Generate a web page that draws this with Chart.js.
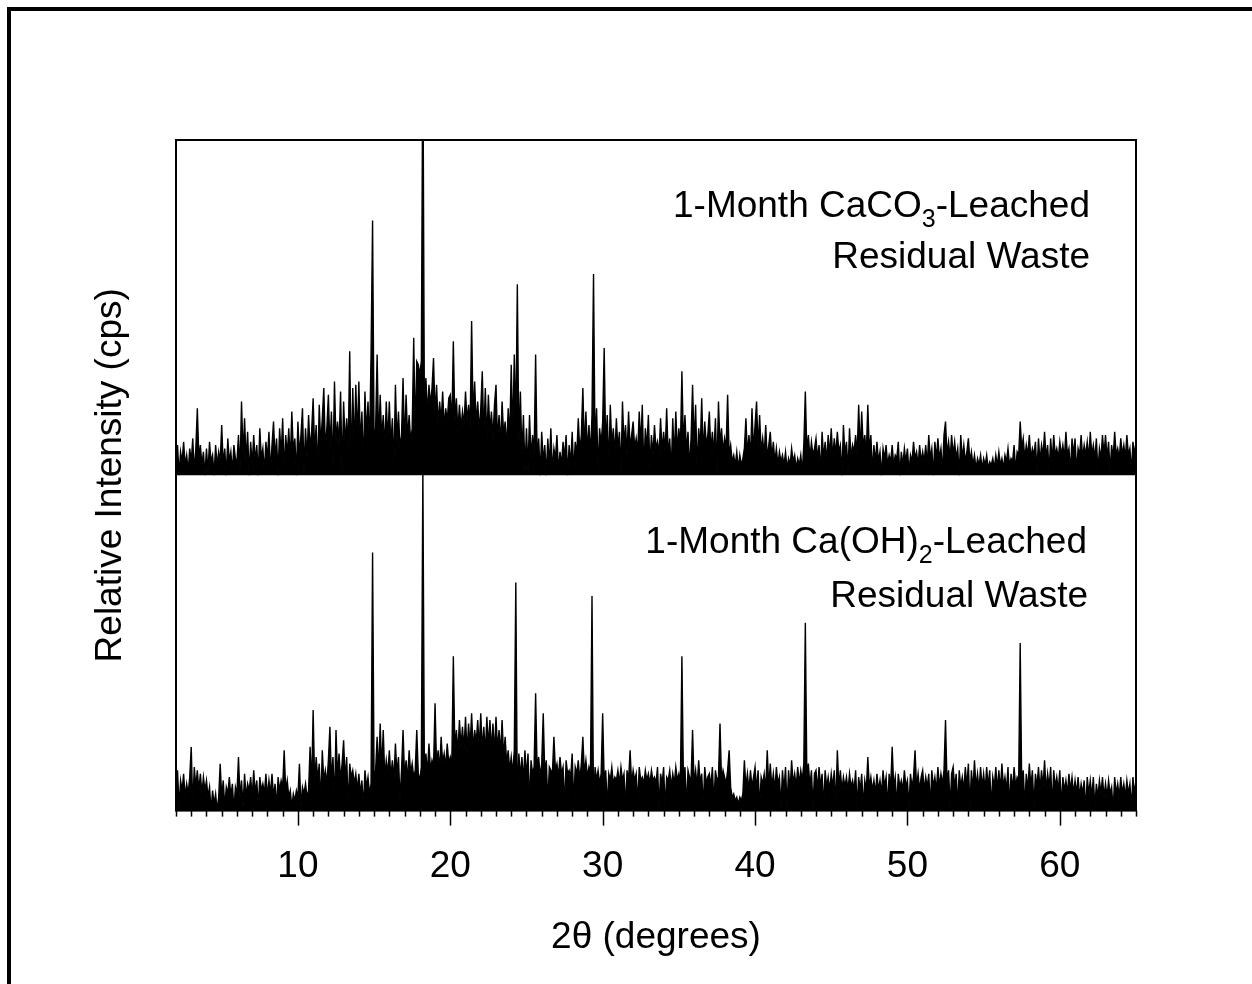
<!DOCTYPE html>
<html>
<head>
<meta charset="utf-8">
<script src="https://cdn.jsdelivr.net/npm/chart.js@4.4.0/dist/chart.umd.min.js"></script>
<style>
    html, body { margin: 0; padding: 0; background: #fff; overflow: hidden; }
    #frame { position: absolute; left: 7px; top: 7px; width: 1400px; height: 1200px; border: 4px solid #000; box-sizing: border-box; }
    #wrap { position: absolute; left: 0; top: 0; width: 1252px; height: 984px; }
</style>
</head>
<body>
<div id="frame"></div>
<div id="wrap"><canvas id="xrdChart" width="1252" height="984"></canvas></div>
<script>
// scan grid (2-theta, degrees), one row below = one degree
const scanStart = 2;
const scanStep = 0.1;

// 1-Month CaCO3-leached residual waste (relative counts)
const caco3Counts = [
    3, 9, 0, 7, 4, 10, 3, 6, 1, 8,
    4, 11, 1, 8, 20, 5, 9, 3, 7, 0,
    8, 1, 10, 4, 6, 0, 9, 3, 7, 4,
    15, 3, 8, 0, 11, 4, 7, 1, 9, 5,
    4, 12, 1, 22, 6, 17, 4, 13, 0, 10,
    3, 12, 4, 9, 0, 14, 5, 8, 1, 10,
    5, 13, 1, 9, 16, 5, 11, 0, 14, 6,
    17, 1, 12, 6, 14, 4, 19, 7, 11, 0,
    16, 6, 12, 20, 1, 14, 5, 18, 8, 13,
    23, 7, 15, 1, 21, 9, 17, 26, 8, 14,
    24, 8, 19, 2, 28, 10, 16, 9, 25, 1,
    22, 9, 17, 8, 37, 2, 26, 8, 27, 11,
    28, 9, 19, 2, 25, 12, 22, 9, 36, 76,
    10, 14, 36, 9, 24, 11, 18, 8, 22, 10,
    22, 9, 17, 2, 27, 10, 19, 8, 12, 29,
    9, 24, 11, 18, 10, 14, 41, 12, 34, 33,
    30, 34, 130, 20, 29, 18, 27, 21, 26, 35,
    18, 27, 15, 22, 16, 25, 14, 20, 16, 23,
    24, 15, 40, 16, 23, 13, 21, 14, 19, 15,
    25, 16, 21, 14, 46, 17, 28, 15, 22, 13,
    20, 31, 12, 26, 10, 24, 13, 19, 11, 21,
    27, 10, 18, 9, 22, 12, 16, 8, 20, 11,
    33, 12, 36, 14, 57, 9, 25, 6, 18, 1,
    14, 1, 18, 5, 12, 6, 36, 5, 11, 0,
    13, 4, 9, 0, 11, 3, 14, 1, 8, 5,
    12, 1, 7, 3, 10, 5, 12, 0, 9, 3,
    13, 1, 10, 6, 17, 7, 12, 26, 8, 19,
    7, 15, 6, 18, 60, 8, 20, 1, 14, 9,
    16, 38, 8, 18, 2, 21, 9, 14, 6, 17,
    8, 13, 1, 22, 9, 15, 6, 19, 8, 12,
    16, 8, 11, 7, 19, 9, 21, 1, 14, 8,
    18, 2, 12, 6, 15, 8, 10, 6, 17, 7,
    13, 7, 20, 6, 11, 1, 17, 5, 19, 7,
    14, 8, 31, 9, 18, 7, 13, 2, 11, 27,
    9, 21, 1, 14, 8, 23, 6, 16, 9, 12,
    19, 7, 13, 6, 17, 1, 22, 9, 14, 7,
    11, 8, 24, 6, 9, 4, 6, 3, 7, 2,
    6, 3, 5, 8, 17, 6, 12, 5, 20, 7,
    15, 22, 8, 18, 7, 11, 6, 15, 5, 9,
    13, 5, 10, 4, 8, 3, 7, 4, 6, 3,
    7, 2, 5, 3, 8, 4, 6, 2, 5, 3,
    6, 1, 9, 25, 7, 12, 5, 10, 6, 8,
    11, 5, 9, 1, 13, 5, 10, 4, 12, 6,
    14, 5, 11, 6, 13, 7, 9, 0, 15, 6,
    10, 1, 14, 5, 9, 7, 12, 6, 21, 7,
    19, 8, 12, 6, 21, 7, 12, 1, 9, 4,
    10, 4, 7, 0, 8, 5, 9, 3, 6, 4,
    9, 3, 6, 5, 10, 0, 7, 3, 8, 4,
    8, 1, 6, 4, 10, 5, 7, 3, 9, 4,
    7, 4, 9, 3, 12, 5, 8, 0, 10, 5,
    11, 5, 8, 1, 12, 16, 6, 10, 5, 12,
    6, 10, 5, 8, 0, 12, 5, 9, 4, 7,
    11, 4, 7, 3, 6, 2, 5, 3, 6, 2,
    5, 3, 6, 2, 4, 3, 5, 2, 6, 3,
    7, 3, 5, 2, 6, 4, 8, 3, 5, 4,
    9, 1, 7, 6, 16, 8, 11, 5, 9, 6,
    12, 5, 8, 6, 10, 1, 11, 4, 9, 6,
    13, 5, 9, 1, 11, 4, 12, 6, 8, 5,
    10, 6, 9, 5, 13, 6, 8, 1, 11, 6,
    11, 1, 8, 6, 12, 5, 9, 6, 10, 5,
    13, 6, 9, 5, 11, 1, 8, 5, 12, 6,
    12, 5, 10, 1, 9, 5, 13, 6, 8, 5,
    11, 6, 9, 5, 12, 6, 8, 1, 10, 6,
    10
];

// 1-Month Ca(OH)2-leached residual waste
const caoh2Counts = [
    5, 12, 1, 9, 6, 11, 4, 8, 5, 10,
    19, 1, 13, 7, 12, 6, 11, 5, 10, 6,
    9, 4, 7, 0, 6, 2, 5, 0, 4, 14,
    4, 9, 1, 7, 5, 10, 4, 8, 0, 7,
    5, 16, 4, 9, 1, 11, 4, 8, 6, 10,
    4, 12, 5, 9, 1, 10, 6, 8, 5, 11,
    4, 9, 5, 11, 4, 8, 1, 10, 6, 9,
    7, 18, 6, 9, 4, 6, 1, 5, 3, 6,
    4, 14, 1, 7, 5, 8, 4, 6, 19, 7,
    30, 8, 16, 9, 14, 2, 18, 9, 12, 8,
    15, 25, 9, 16, 2, 24, 10, 17, 9, 14,
    21, 9, 16, 1, 14, 10, 12, 8, 11, 6,
    11, 5, 9, 1, 12, 7, 10, 5, 8, 77,
    9, 12, 22, 11, 26, 12, 24, 10, 15, 11,
    18, 10, 15, 9, 20, 11, 16, 3, 12, 24,
    10, 15, 9, 18, 11, 14, 10, 12, 24, 11,
    9, 13, 102, 12, 17, 11, 20, 12, 15, 13,
    32, 13, 18, 12, 22, 14, 17, 13, 20, 14,
    16, 14, 46, 18, 24, 17, 27, 19, 25, 18,
    28, 17, 26, 19, 29, 18, 24, 20, 27, 19,
    29, 18, 25, 17, 28, 19, 27, 18, 26, 17,
    28, 18, 24, 17, 27, 16, 22, 14, 18, 12,
    16, 11, 18, 68, 2, 17, 10, 16, 9, 18,
    10, 17, 2, 15, 11, 13, 35, 12, 16, 10,
    14, 29, 11, 15, 2, 13, 12, 11, 22, 12,
    14, 10, 16, 11, 13, 1, 15, 11, 12, 10,
    17, 2, 13, 11, 15, 9, 14, 22, 11, 15,
    10, 13, 11, 64, 1, 13, 9, 12, 8, 11,
    29, 9, 12, 1, 11, 9, 13, 8, 10, 9,
    12, 8, 13, 9, 11, 1, 12, 9, 18, 8,
    12, 9, 11, 2, 13, 9, 10, 8, 12, 9,
    11, 8, 12, 9, 10, 8, 13, 1, 11, 8,
    13, 1, 10, 9, 12, 7, 11, 8, 13, 9,
    11, 8, 46, 9, 13, 1, 12, 10, 9, 24,
    8, 12, 7, 15, 8, 11, 1, 13, 8, 10,
    11, 7, 13, 2, 12, 9, 10, 26, 9, 12,
    10, 8, 12, 18, 7, 4, 5, 3, 4, 2,
    4, 3, 5, 15, 7, 11, 6, 12, 7, 10,
    13, 6, 12, 1, 10, 8, 11, 6, 18, 7,
    14, 7, 11, 6, 13, 8, 10, 1, 12, 6,
    13, 1, 12, 6, 15, 8, 11, 7, 13, 8,
    12, 9, 14, 56, 10, 14, 7, 12, 1, 11,
    12, 6, 13, 7, 11, 1, 12, 7, 10, 6,
    11, 7, 12, 1, 18, 7, 12, 6, 10, 7,
    10, 6, 11, 7, 9, 6, 12, 1, 10, 6,
    11, 1, 9, 6, 16, 7, 10, 6, 9, 5,
    11, 6, 9, 5, 12, 7, 10, 1, 11, 7,
    19, 7, 10, 1, 11, 7, 9, 6, 12, 7,
    9, 1, 11, 7, 10, 18, 7, 11, 6, 10,
    12, 6, 10, 7, 11, 1, 12, 7, 10, 6,
    13, 7, 11, 8, 12, 27, 8, 12, 1, 11,
    13, 7, 11, 1, 12, 7, 10, 6, 13, 7,
    14, 1, 12, 6, 15, 7, 11, 6, 13, 7,
    11, 6, 13, 7, 12, 1, 10, 7, 13, 6,
    12, 6, 14, 7, 10, 6, 13, 1, 11, 6,
    13, 7, 10, 9, 50, 8, 12, 1, 11, 6,
    14, 7, 12, 1, 11, 7, 13, 6, 12, 7,
    15, 6, 11, 7, 13, 1, 12, 7, 10, 6,
    12, 1, 10, 6, 9, 5, 11, 6, 10, 5,
    9, 5, 10, 4, 8, 5, 9, 0, 10, 5,
    9, 4, 10, 1, 8, 4, 9, 5, 10, 4,
    8, 4, 9, 5, 7, 0, 10, 5, 8, 4,
    10, 5, 8, 4, 9, 5, 8, 1, 10, 5,
    9
];

const tickAngles = [10, 20, 30, 40, 50, 60];
const minorStep = 1;
const stackOffset = 100;   // upper pattern is shifted up by this much

const FONT = "'Liberation Sans', Arial, sans-serif";

const angles = caco3Counts.map((_, i) => +(scanStart + i * scanStep).toFixed(1));

// frame, tick marks and the two pattern labels
const xrdDecor = {
    id: 'xrdDecor',
    afterDraw(chart) {
        const { ctx, chartArea: a, scales: { x } } = chart;
        ctx.save();
        ctx.strokeStyle = '#000';
        ctx.lineWidth = 2;
        ctx.strokeRect(a.left, a.top, a.right - a.left, a.bottom - a.top);

        ctx.lineWidth = 1.5;
        for (let v = x.min; v <= x.max + 1e-6; v += minorStep) {
            const px = Math.round(x.getPixelForValue(v)) + 0.5;
            const len = tickAngles.includes(v) ? 15 : 6;
            ctx.beginPath();
            ctx.moveTo(px, a.bottom);
            ctx.lineTo(px, a.bottom + len);
            ctx.stroke();
        }

        const drawLabel = (right, baseline, parts) => {
            const big = '37px ' + FONT, small = '25px ' + FONT;
            let total = 0;
            parts.forEach(p => { ctx.font = p[1] ? small : big; total += ctx.measureText(p[0]).width; });
            let cx = right - total;
            ctx.fillStyle = '#000';
            ctx.textBaseline = 'alphabetic';
            ctx.textAlign = 'left';
            parts.forEach(p => {
                ctx.font = p[1] ? small : big;
                ctx.fillText(p[0], cx, baseline + (p[1] ? 10 : 0));
                cx += ctx.measureText(p[0]).width;
            });
        };
        drawLabel(a.right - 46, a.top + 77, [['1-Month CaCO', false], ['3', true], ['-Leached', false]]);
        drawLabel(a.right - 46, a.top + 128, [['Residual Waste', false]]);
        drawLabel(a.right - 49, a.top + 413, [['1-Month Ca(OH)', false], ['2', true], ['-Leached', false]]);
        drawLabel(a.right - 48, a.top + 467, [['Residual Waste', false]]);
        ctx.restore();
    }
};

new Chart(document.getElementById('xrdChart').getContext('2d'), {
    type: 'line',
    data: {
        datasets: [
            {
                label: '1-Month CaCO3-Leached Residual Waste',
                data: caco3Counts.map((c, i) => ({ x: angles[i], y: c + stackOffset })),
                borderColor: '#000',
                backgroundColor: '#000',
                borderWidth: 1.4,
                pointRadius: 0,
                tension: 0,
                fill: { value: stackOffset }
            },
            {
                label: '1-Month Ca(OH)2-Leached Residual Waste',
                data: caoh2Counts.map((c, i) => ({ x: angles[i], y: c })),
                borderColor: '#000',
                backgroundColor: '#000',
                borderWidth: 1.4,
                pointRadius: 0,
                tension: 0,
                fill: 'origin'
            }
        ]
    },
    options: {
        responsive: false,
        animation: false,
        layout: { padding: { left: 88.4, top: 140, right: 116, bottom: 28 } },
        plugins: { legend: { display: false }, tooltip: { enabled: false } },
        scales: {
            x: {
                type: 'linear',
                min: 2,
                max: 65,
                afterBuildTicks: s => { s.ticks = tickAngles.map(v => ({ value: v })); },
                ticks: { color: '#000', padding: 26, font: { size: 37, family: FONT } },
                grid: { display: false },
                border: { display: false },
                title: {
                    display: true,
                    text: '2θ (degrees)',
                    color: '#000',
                    font: { size: 37, family: FONT, lineHeight: 1 },
                    padding: { top: 4, bottom: 0 }
                }
            },
            y: {
                min: 0,
                max: 200,
                ticks: { display: false },
                grid: { display: false },
                border: { display: false },
                title: {
                    display: true,
                    text: 'Relative Intensity (cps)',
                    color: '#000',
                    font: { size: 37, family: FONT },
                    padding: { top: 0, bottom: 35.2 }
                }
            }
        }
    },
    plugins: [xrdDecor]
});
</script>
</body>
</html>
